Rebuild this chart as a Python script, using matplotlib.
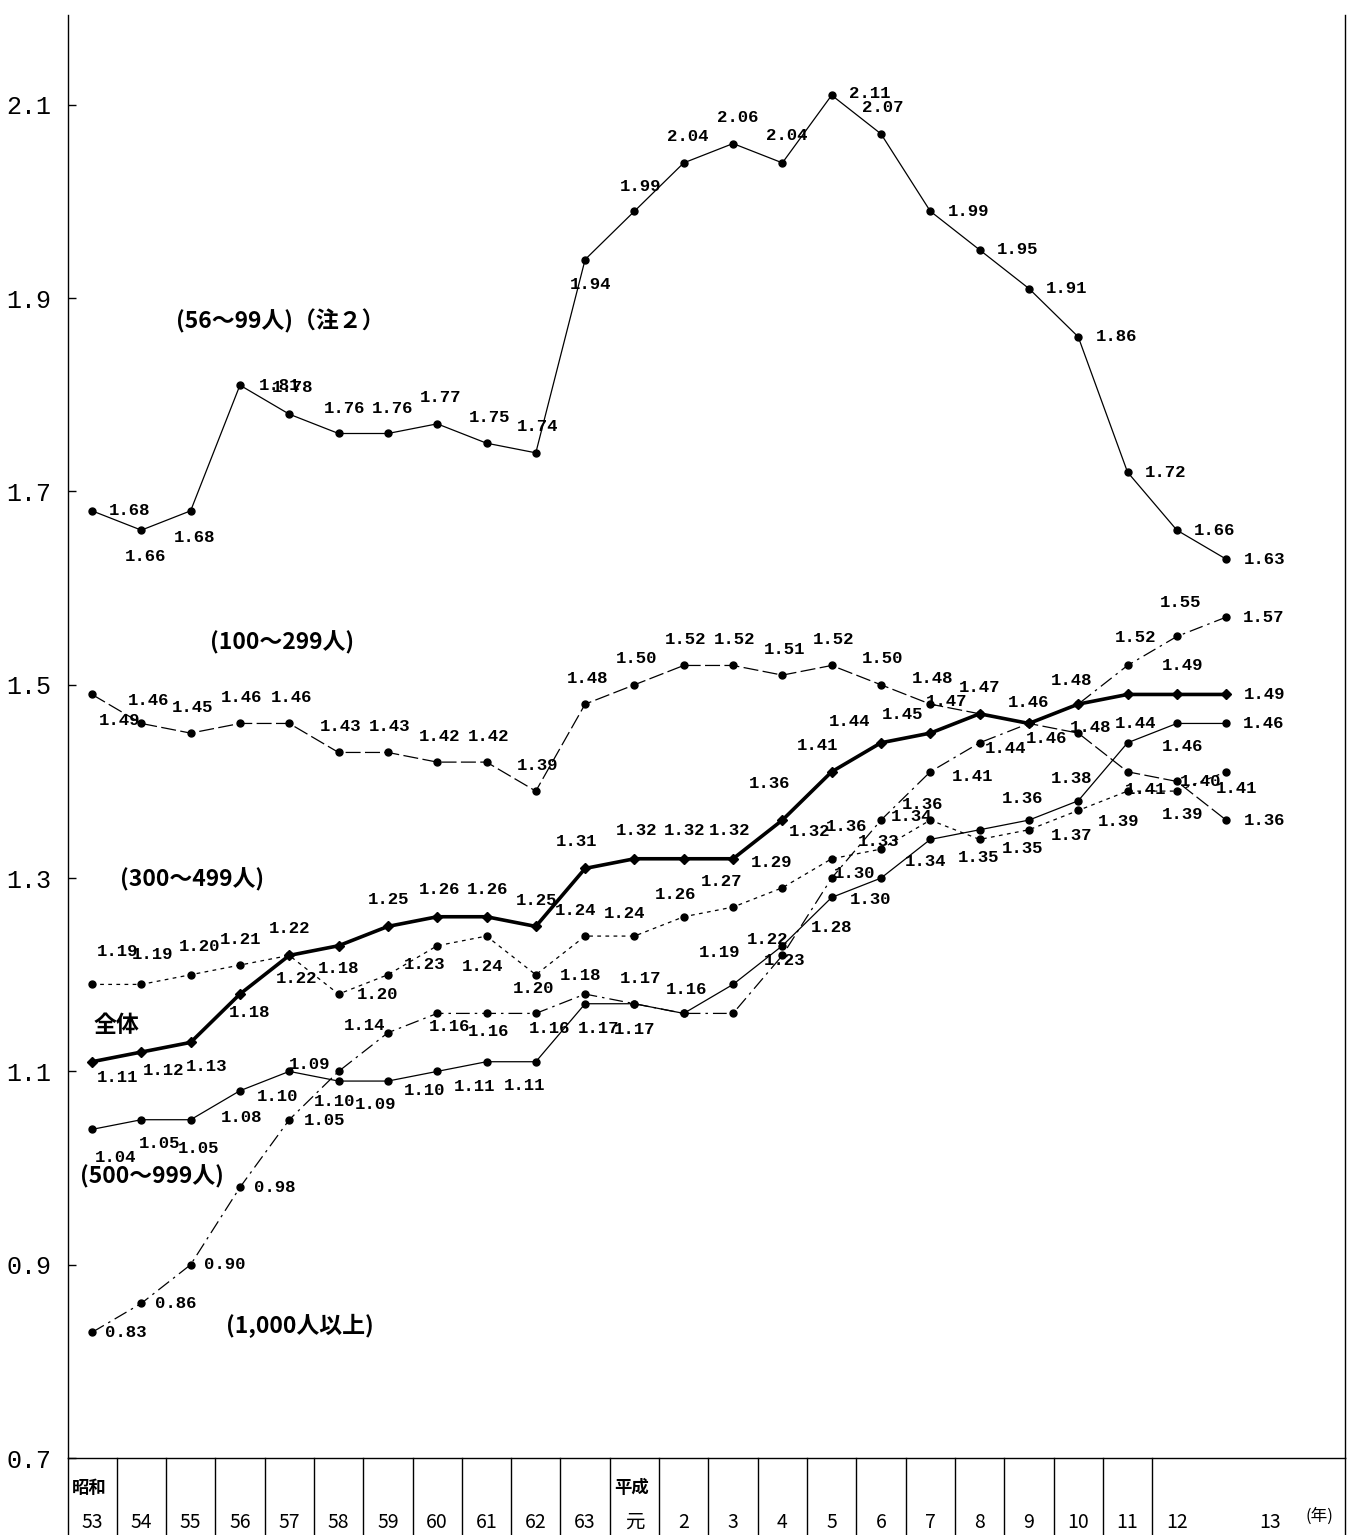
import numpy as np
import matplotlib
matplotlib.use("Agg")
import matplotlib.pyplot as plt
import matplotlib.transforms as mtransforms

# 年（昭和53～平成13）
years = ['53', '54', '55', '56', '57', '58', '59', '60', '61', '62', '63',
         '元', '2', '3', '4', '5', '6', '7', '8', '9', '10', '11', '12', '13']
eras = {0: '昭和', 11: '平成'}

# 規模別の値
s56_99 = [1.68, 1.66, 1.68, 1.81, 1.78, 1.76, 1.76, 1.77, 1.75, 1.74, 1.94, 1.99,
          2.04, 2.06, 2.04, 2.11, 2.07, 1.99, 1.95, 1.91, 1.86, 1.72, 1.66, 1.63]
s100_299 = [1.49, 1.46, 1.45, 1.46, 1.46, 1.43, 1.43, 1.42, 1.42, 1.39, 1.48, 1.50,
            1.52, 1.52, 1.51, 1.52, 1.50, 1.48, 1.47, 1.46, 1.45, 1.41, 1.40, 1.36]
s300_499 = [1.19, 1.19, 1.20, 1.21, 1.22, 1.18, 1.20, 1.23, 1.24, 1.20, 1.24, 1.24,
            1.26, 1.27, 1.29, 1.32, 1.33, 1.36, 1.34, 1.35, 1.37, 1.39, 1.39, 1.41]
s_all = [1.11, 1.12, 1.13, 1.18, 1.22, 1.23, 1.25, 1.26, 1.26, 1.25, 1.31, 1.32,
         1.32, 1.32, 1.36, 1.41, 1.44, 1.45, 1.47, 1.46, 1.48, 1.49, 1.49, 1.49]
s500_999 = [1.04, 1.05, 1.05, 1.08, 1.10, 1.09, 1.09, 1.10, 1.11, 1.11, 1.17, 1.17,
            1.16, 1.19, 1.23, 1.28, 1.30, 1.34, 1.35, 1.36, 1.38, 1.44, 1.46, 1.46]
s1000 = [0.83, 0.86, 0.90, 0.98, 1.05, 1.10, 1.14, 1.16, 1.16, 1.16, 1.18, 1.17,
         1.16, 1.16, 1.22, 1.30, 1.36, 1.41, 1.44, 1.46, 1.48, 1.52, 1.55, 1.57]

# ラベル位置（ピクセル, dx, dy 下向き正）  None は表示しない
R = (38, 0)
off56 = [R, (4, 26), (4, 27), (40, 0), (3, -27), (6, -25), (5, -25), (3, -26), (3, -26),
         (2, -26), (5, 25), (6, -25), (4, -26), (5, -26), (4, -27), (38, -2), (2, -26),
         R, R, R, R, R, R, R]
U = (2, -26)
off100 = [(28, 26), (7, -23), U, U, U, U, U, U, U, U, U, U, U, U, U, U, U, U,
          (-33, -12), None, None, (18, 18), (24, 0), R]
offall = [(26, 16), (22, 18), (16, 24), (10, 18), (0, -27), None, (1, -27), (2, -27),
          (1, -27), (1, -26), (-9, -27), (2, -28), (1, -28), (-3, -28), (-13, -37),
          (-14, -26), (-31, -21), (-28, -19), (0, -26), (0, -21), (-7, -24), None,
          (6, -29), R]
off300 = [(26, -33), (11, -30), (9, -28), (1, -26), (7, 23), (0, -26), (-10, 20),
          (-13, 19), (-4, 30), (-2, 14), (-10, -26), (-10, -23), (-8, -22), (-11, -26),
          (-11, -25), (-22, -27), (-2, -8), (-8, -16), (-68, -23), (-6, 19), (-7, 25),
          (-9, 30), (6, 23), (10, 17)]
off500 = [(24, 28), (18, 24), (8, 29), (2, 27), (-12, 25), (-29, -17), (-12, 23),
          (-13, 19), (-12, 25), (-11, 24), (13, 25), (0, 26), (3, -24), (-13, -32),
          (2, 15), (0, 30), (-10, 21), (-5, 22), (-1, 28), (-6, -22), (-7, -22),
          (8, -19), (6, 23), (37, 0)]
off1000 = [(34, 0), (34, 0), (34, 0), (35, 0), (35, 1), (-4, 30), (-23, -7), (12, 13),
           (2, 18), (14, 15), (-5, -19), (6, -25), None, None, (-15, -16), (23, -5),
           (-34, 6), (42, 5), (26, 6), (18, 15), (12, 23), (8, -28), (4, -34), (37, 0)]

W, H = 1356, 1535
fig = plt.figure(figsize=(W / 100, H / 100), dpi=100)
ax = fig.add_axes([68 / W, 77 / H, (1345 - 68) / W, (1458 - 15) / H])

x = np.arange(len(years))
numfont = 'Liberation Mono'
jpfont = ['Noto Sans CJK JP', 'DejaVu Sans']

series = [
    (s56_99, off56, dict(lw=0.9, ls='-', marker='o', ms=5)),
    (s100_299, off100, dict(lw=0.9, ls=(0, (12, 3.5)), marker='o', ms=5)),
    (s300_499, off300, dict(lw=0.9, ls=(0, (3, 3.5)), marker='o', ms=5)),
    (s_all, offall, dict(lw=2.6, ls='-', marker='D', ms=5.5)),
    (s500_999, off500, dict(lw=0.9, ls='-', marker='o', ms=5)),
    (s1000, off1000, dict(lw=0.9, ls=(0, (11, 4, 2, 4)), marker='o', ms=5)),
]

for vals, offs, st in series:
    ax.plot(x, vals, color='black', **st)
    for xi, v, o in zip(x, vals, offs):
        if o is None:
            continue
        ax.annotate(f'{v:.2f}', (xi, v), xytext=(o[0], -o[1]), textcoords='offset pixels',
                    ha='center', va='center', fontsize=12.5, family=numfont,
                    fontweight='bold', color='black')

# 系列名
names = [('(56～99人)（注２）', 280, 321), ('(100～299人)', 282, 643),
         ('(300～499人)', 192, 880), ('全体', 116, 1025),
         ('(500～999人)', 152, 1177), ('(1,000人以上)', 300, 1326)]
for t, px, py in names:
    fig.text(px / W, 1 - py / H, t, ha='center', va='center', fontsize=16.5,
             fontweight='bold', family=jpfont)

ax.set_xlim(-0.487, 25.41)
ax.set_ylim(0.7, 2.193)
yt = np.arange(0.7, 2.15, 0.2)
ax.set_yticks(yt)
ax.set_yticklabels([f'{v:.1f}' for v in yt], family=numfont, fontsize=18)
ax.tick_params(axis='y', direction='in', length=6, width=1, pad=12)
ax.set_xticks([])
ax.spines['top'].set_visible(False)
for s in ['left', 'right', 'bottom']:
    ax.spines[s].set_linewidth(1.0)

# 下の年表
trans = mtransforms.blended_transform_factory(ax.transData, ax.transAxes)
hfrac = 77 / (1458 - 15)
for k in range(len(years) - 2):
    ax.plot([k + 0.5, k + 0.5], [0, -hfrac], transform=trans, color='black',
            lw=1.0, clip_on=False)
for xe in ax.get_xlim():
    ax.plot([xe, xe], [0, -hfrac], transform=trans, color='black', lw=1.0, clip_on=False)

y_num = -(1522 - 1458) / (1458 - 15)
y_era = -(1488 - 1458) / (1458 - 15)
for i, lab in enumerate(years):
    xi = i if i < len(years) - 1 else i + 0.9
    ax.text(xi, y_num, lab, transform=trans, ha='center', va='center',
            fontsize=14, family=jpfont)
for i, lab in eras.items():
    ax.text(i - 0.41, y_era, lab, transform=trans, ha='left', va='center',
            fontsize=12.5, fontweight='bold', family=jpfont)
ax.text(len(years) - 1 + 1.9, -(1516 - 1458) / (1458 - 15), '(年)', transform=trans,
        ha='center', va='center', fontsize=12, family=jpfont)

fig.savefig('out.png', dpi=100)
